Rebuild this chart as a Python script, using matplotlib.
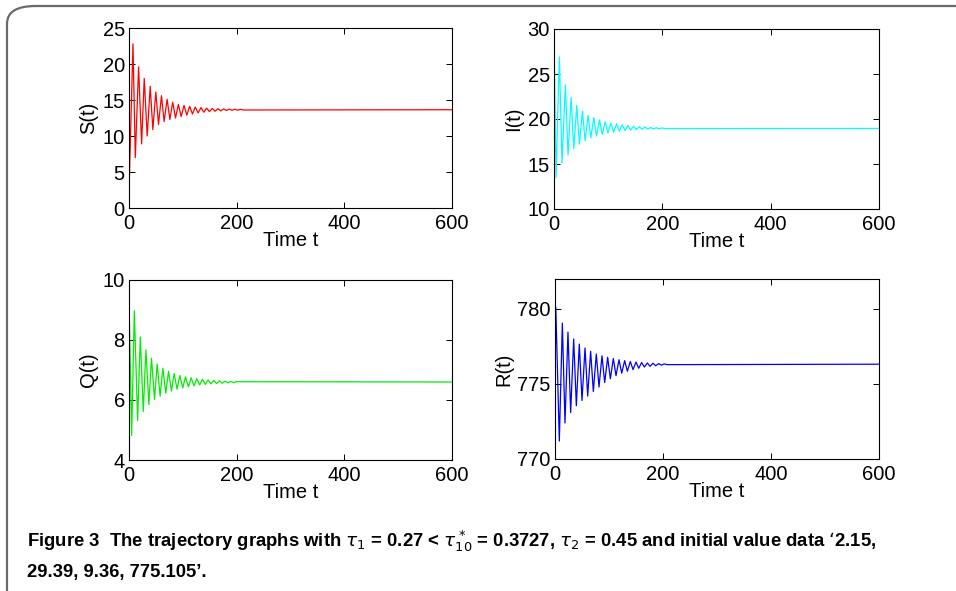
import matplotlib
matplotlib.use("Agg")
import matplotlib.pyplot as plt
from matplotlib.patches import FancyBboxPatch

# ---- data: extrema (time, value) ----
s_t = [0, 7.4, 11.7, 17.8, 23.4, 28.3, 33.8, 39.4, 44.3, 49.8, 54.8, 60.3, 65.2, 70.8, 75.9,
       81.2, 86.4, 91.7, 96.9, 102.2, 107.4, 112.7, 117.9, 123.2, 128.4, 133.7, 138.9, 144.2,
       149.4, 154.7, 159.9, 165.2, 170.4, 175.7, 180.9, 186.2, 191.4, 196.7, 201.9, 207.2, 212.4, 600]
s_v = [2.15, 22.8, 7.0, 19.6, 8.9, 18.0, 10.0, 16.9, 10.9, 16.1, 11.6, 15.6, 12.0, 15.1, 12.3,
       14.7, 12.5, 14.4, 12.7, 14.25, 12.9, 14.12, 13.05, 14.02, 13.2, 13.95, 13.3, 13.88,
       13.38, 13.83, 13.44, 13.79, 13.5, 13.76, 13.54, 13.74, 13.57, 13.72, 13.59, 13.70, 13.61, 13.65]

i_t = [0, 3.7, 9.9, 14.8, 21.0, 25.9, 31.5, 36.4, 42.0, 46.9, 52.5, 57.4, 63.0, 67.9, 73.5,
       78.4, 84.0, 89.0, 94.5, 99.5, 105.0, 110.0, 115.5, 120.5, 126.0, 131.0, 136.5, 141.5,
       147.0, 152.0, 157.5, 162.5, 168.0, 173.0, 178.5, 183.5, 189.0, 194.0, 199.5, 204.5, 600]
i_v = [29.39, 13.5, 26.9, 15.1, 23.8, 16.0, 22.4, 16.7, 21.5, 17.2, 20.9, 17.6, 20.4, 17.9, 20.15,
       18.1, 19.9, 18.3, 19.7, 18.45, 19.55, 18.55, 19.45, 18.65, 19.35, 18.72, 19.27, 18.78,
       19.2, 18.82, 19.14, 18.85, 19.1, 18.88, 19.06, 18.9, 19.03, 18.92, 19.0, 18.94, 18.95]

q_t = [0, 4.9, 9.9, 16.0, 21.0, 26.5, 31.4, 36.9, 41.8, 47.4, 52.3, 57.8, 62.9, 68.3, 73.4,
       78.8, 83.9, 89.3, 94.4, 99.8, 104.9, 110.3, 115.4, 120.8, 125.9, 131.3, 136.4, 141.8,
       146.9, 152.3, 157.4, 162.8, 167.9, 173.3, 178.4, 183.8, 188.9, 194.3, 199.4, 600]
q_v = [9.36, 4.82, 8.98, 5.32, 8.1, 5.62, 7.67, 5.85, 7.39, 6.02, 7.2, 6.13, 7.06, 6.23, 6.96,
       6.3, 6.88, 6.36, 6.82, 6.4, 6.77, 6.44, 6.74, 6.47, 6.71, 6.5, 6.69, 6.52,
       6.67, 6.54, 6.65, 6.55, 6.64, 6.56, 6.63, 6.57, 6.62, 6.58, 6.61, 6.6]

r_t = [0, 1.5, 8.0, 13.6, 18.5, 24.0, 29.0, 34.6, 39.5, 45.0, 50.0, 55.6, 60.5, 66.0, 71.0,
       76.5, 81.5, 87.0, 92.0, 97.5, 102.5, 108.0, 113.0, 118.5, 123.5, 129.0, 134.0, 139.5,
       144.5, 150.0, 155.0, 160.5, 165.5, 171.0, 176.0, 181.5, 186.5, 192.0, 197.0, 202.5, 207.5, 600]
r_v = [775.105, 780.1, 771.2, 779.06, 772.4, 778.46, 773.1, 778.0, 773.55, 777.66, 773.9, 777.4,
       774.2, 777.18, 774.5, 777.0, 774.8, 776.88, 775.1, 776.78, 775.35, 776.7, 775.55, 776.62,
       775.72, 776.56, 775.85, 776.5, 775.96, 776.46, 776.05, 776.43, 776.13, 776.4, 776.18,
       776.38, 776.22, 776.36, 776.26, 776.34, 776.29, 776.32]

x_ticks = [0, 200, 400, 600]
panels = [
    dict(t=s_t, v=s_v, color="#ff0000", ylabel="S(t)", ylim=(0, 25), yticks=[0, 5, 10, 15, 20, 25]),
    dict(t=i_t, v=i_v, color="#00ffff", ylabel="I(t)", ylim=(10, 30), yticks=[10, 15, 20, 25, 30]),
    dict(t=q_t, v=q_v, color="#00ee00", ylabel="Q(t)", ylim=(4, 10), yticks=[4, 6, 8, 10]),
    dict(t=r_t, v=r_v, color="#0000ff", ylabel="R(t)", ylim=(770, 782), yticks=[770, 775, 780]),
]
positions = [
    [129/956, 1-208/591, 323/956, 180/591],
    [554/956, 1-209/591, 325/956, 180/591],
    [129/956, 1-460/591, 323/956, 180/591],
    [555/956, 1-459/591, 324/956, 180/591],
]

plt.rcParams['font.family'] = ['Liberation Sans', 'DejaVu Sans']

fig = plt.figure(figsize=(9.56, 5.91), dpi=100)

# outer rounded frame
frame = FancyBboxPatch((7/956, -0.1), 1.2, 1 - 6/591 + 0.1,
                       boxstyle="round,pad=0,rounding_size=0.03",
                       transform=fig.transFigure, fill=False,
                       edgecolor="#6a6a6a", linewidth=1.6, clip_on=False)
fig.patches.append(frame)

for p, pos in zip(panels, positions):
    ax = fig.add_axes(pos)
    ax.plot(p["t"], p["v"], color=p["color"], linewidth=0.9)
    ax.set_xlim(0, 600)
    ax.set_ylim(*p["ylim"])
    ax.set_xticks(x_ticks)
    ax.set_yticks(p["yticks"])
    ax.tick_params(direction="in", top=True, right=True, labelsize=14.5,
                   length=4, width=0.7)
    ax.tick_params(axis="x", pad=4)
    ax.tick_params(axis="y", pad=3)
    ax.set_xlabel("Time t", fontsize=14.5, labelpad=-1)
    ax.set_ylabel(p["ylabel"], fontsize=14.5, labelpad=3)
    for sp in ax.spines.values():
        sp.set_linewidth(0.8)

cap_font = ['Liberation Sans Narrow', 'Liberation Sans', 'DejaVu Sans']
fig.text(27/956, 1-547/591,
         r"Figure 3  The trajectory graphs with $\tau_1$ = 0.27 < $\tau^*_{10}$ = 0.3727, $\tau_2$ = 0.45 and initial value data ‘2.15,",
         fontsize=13.3, fontweight="bold", family=cap_font, va="baseline", ha="left")
fig.text(27/956, 1-577/591, "29.39, 9.36, 775.105’.",
         fontsize=13.3, fontweight="bold", family=cap_font, va="baseline", ha="left")

fig.savefig("out.png", dpi=100)
